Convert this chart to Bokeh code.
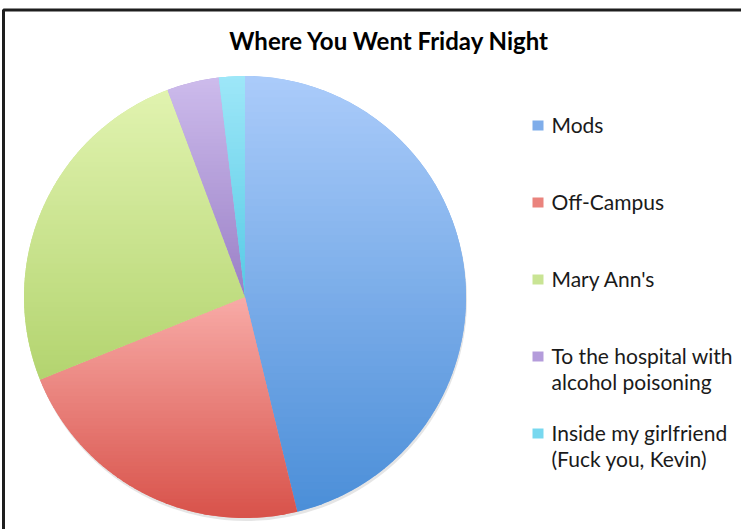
import math
from bokeh.plotting import figure
from bokeh.models import Range1d, ColumnDataSource
from bokeh.core.properties import value
from bokeh.embed import file_html
from bokeh.resources import INLINE

# ---- data ----
categories = ["Mods", "Off-Campus", "Mary Ann's",
              "To the hospital with\nalcohol poisoning",
              "Inside my girlfriend\n(Fuck you, Kevin)"]
shares = [46.2, 22.7, 25.4, 3.8, 1.9]
colors = ["#7FADEA", "#EA837D", "#C9E494", "#B49CDB", "#78D8EF"]
top_colors = ["#ABCCFA", "#F8ABA7", "#E1F3B0", "#CDBBEC", "#9EE7F8"]
bottom_colors = ["#4B8ED8", "#D8524A", "#B3D46F", "#9A80C6", "#56CAE5"]
title_text = "Where You Went Friday Night"

W, H = 741, 529
FONT = "Lato"

p = figure(width=W, height=H, output_backend="svg", toolbar_location=None,
           x_range=Range1d(0, W), y_range=Range1d(0, H),
           min_border=0, outline_line_color=None)
p.xaxis.visible = False
p.yaxis.visible = False
p.grid.visible = False
p.background_fill_color = "white"
p.border_fill_color = "white"


def Y(page_y):
    return H - page_y


# ---- pie ----
cx, cy, r = 244.5, Y(296.5), 221
total = sum(shares)
starts, ends = [], []
acc = 0.0
for s in shares:
    a0 = math.pi / 2 - 2 * math.pi * acc / total
    acc += s
    a1 = math.pi / 2 - 2 * math.pi * acc / total
    starts.append(a0)
    ends.append(a1)

src = ColumnDataSource(dict(start=starts, end=ends, color=colors,
                            x=[cx] * len(shares), y=[cy] * len(shares)))

# soft shadow
p.circle(x=[cx + 1], y=[cy - 3], radius=r, fill_color="#b5b5b5",
         fill_alpha=0.35, line_color=None)
p.wedge(x="x", y="y", radius=r, start_angle="start", end_angle="end",
        direction="clock", fill_color="color", line_color=None, source=src)


# vertical gradient of each slice, drawn as thin horizontal bands
def clip(poly, lo, hi):
    def cut(pts, keep, ylim):
        out = []
        n = len(pts)
        for i in range(n):
            a, b = pts[i], pts[(i + 1) % n]
            ia, ib = keep(a[1]), keep(b[1])
            if ia:
                out.append(a)
            if ia != ib:
                t = (ylim - a[1]) / (b[1] - a[1])
                out.append((a[0] + t * (b[0] - a[0]), ylim))
        return out
    pts = cut(poly, lambda y: y >= lo, lo)
    if not pts:
        return []
    return cut(pts, lambda y: y <= hi, hi)


def mix(c1, c2, t):
    a = [int(c1[i:i + 2], 16) for i in (1, 3, 5)]
    b = [int(c2[i:i + 2], 16) for i in (1, 3, 5)]
    return "#%02x%02x%02x" % tuple(round(a[k] + (b[k] - a[k]) * t) for k in range(3))


xs, ys, fc = [], [], []
NB = 60
for a0, a1, ct, cb in zip(starts, ends, top_colors, bottom_colors):
    n = max(8, int(abs(a0 - a1) * 60))
    poly = [(cx, cy)] + [(cx + r * math.cos(a0 + (a1 - a0) * k / n),
                          cy + r * math.sin(a0 + (a1 - a0) * k / n))
                         for k in range(n + 1)]
    ymin = min(q[1] for q in poly)
    ymax = max(q[1] for q in poly)
    h = (ymax - ymin) / NB
    for b in range(NB):
        lo = ymax - (b + 1) * h
        hi = ymax - b * h
        piece = clip(poly, lo - 0.4, hi + 0.4)
        if len(piece) < 3:
            continue
        xs.append([q[0] for q in piece])
        ys.append([q[1] for q in piece])
        fc.append(mix(ct, cb, (b + 0.5) / NB))

p.patches(xs=xs, ys=ys, fill_color=fc, line_color=None)

# ---- title ----
p.text(x=[389], y=[Y(40)], text=[title_text], text_font=value(FONT),
       text_font_style="bold", text_font_size="24px", text_align="center",
       text_baseline="middle", text_color="#000000")

# ---- legend ----
first_line = [125 + i * 77 for i in range(len(categories))]
ly = [Y(v) for v in first_line]
p.rect(x=[537.5] * len(categories), y=ly, width=11, height=10,
       fill_color=colors, line_color=None)
p.text(x=[551] * len(categories), y=[Y(v - 14) for v in first_line],
       text=categories, text_font=value(FONT), text_font_size="21px",
       text_align="left", text_baseline="top", text_line_height=1.07,
       text_color="#1a1a1a")

# ---- chart-area border (top and left visible) ----
p.line(x=[3, 3, W + 20], y=[-20, Y(9.5), Y(9.5)], line_color="#1e1e1e",
       line_width=3)

open("out.html", "w").write(file_html(p, INLINE))
